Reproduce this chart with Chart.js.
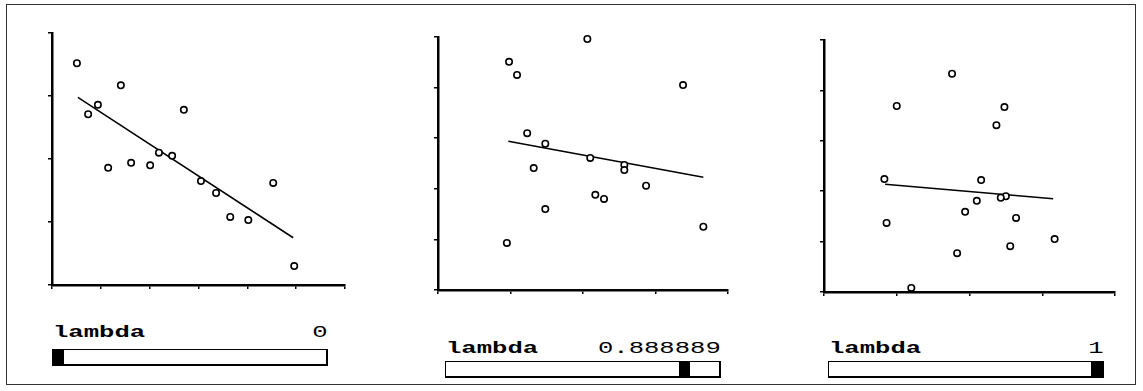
<!DOCTYPE html>
<html>
<head>
<meta charset="utf-8">
<script src="https://cdn.jsdelivr.net/npm/chart.js@4.4.1/dist/chart.umd.min.js"></script>
<style>
  body { margin: 0; background: #fff; width: 1143px; height: 391px; position: relative; overflow: hidden; }
  #frame { position: absolute; left: 6px; top: 4px; width: 1130px; height: 381px; border: 1px solid #333; box-sizing: border-box; }
  canvas.plot { position: absolute; }
  .txt { position: absolute; font-family: "Liberation Mono", monospace; font-size: 16px; line-height: 16px; color: #000; white-space: nowrap; }
  .lbl { transform: scaleX(1.6); transform-origin: left top; font-weight: bold; }
  .val { transform: scaleX(1.6); transform-origin: right top; text-align: right; }
  .track { position: absolute; border: 1px solid #000; border-bottom-width: 2px; border-right-width: 2px; box-sizing: border-box; background: #fff; }
  .thumb { position: absolute; top: 0; bottom: 0; width: 11px; background: #000; }
</style>
</head>
<body>
<div id="frame"></div>

<script>
// panel 1 (lambda = 0)
const p1X = [0.51, 0.74, 0.94, 1.15, 1.41, 1.62, 2.01, 2.19, 2.46, 2.70, 3.05, 3.36, 3.65, 4.02, 4.53, 4.96];
const p1Y = [3.52, 2.71, 2.86, 1.86, 3.17, 1.94, 1.90, 2.10, 2.05, 2.78, 1.65, 1.46, 1.08, 1.03, 1.62, 0.30];
const p1FitX = [0.53, 4.94];
const p1FitY = [2.98, 0.75];

// panel 2 (lambda = 0.888889)
const p2X = [0.98, 1.09, 1.23, 1.48, 1.32, 2.06, 2.10, 2.57, 2.57, 2.17, 2.29, 2.87, 3.38, 1.48, 0.95, 3.66];
const p2Y = [4.51, 4.25, 3.10, 2.89, 2.41, 4.96, 2.61, 2.47, 2.37, 1.88, 1.80, 2.06, 4.05, 1.60, 0.93, 1.25];
const p2FitX = [0.97, 3.66];
const p2FitY = [2.94, 2.23];

// panel 3 (lambda = 1)
const p3X = [1.76, 1.00, 2.48, 2.37, 0.83, 2.16, 2.50, 2.43, 2.10, 1.94, 2.64, 0.86, 3.17, 2.56, 1.83, 1.20];
const p3Y = [4.33, 3.69, 3.67, 3.31, 2.24, 2.22, 1.90, 1.87, 1.81, 1.59, 1.47, 1.37, 1.05, 0.91, 0.77, 0.08];
const p3FitX = [0.84, 3.15];
const p3FitY = [2.14, 1.85];

const lambdaLabel = 'lambda';
const lambdaText = ['0', '0.888889', '1'];
const lambdaVals = [0, 0.888889, 1];

// axis ranges
const xMaxes = [6, 4, 4];
const yMaxes = [4, 5, 5];

const panels = [
  { xs: p1X, ys: p1Y, fx: p1FitX, fy: p1FitY, area: { l: 52, t: 33, r: 345, b: 285 }, slider: { l: 52, t: 349, w: 276, h: 17 }, textTop: 325 },
  { xs: p2X, ys: p2Y, fx: p2FitX, fy: p2FitY, area: { l: 438, t: 37, r: 728, b: 290 }, slider: { l: 445, t: 361, w: 276, h: 17 }, textTop: 341 },
  { xs: p3X, ys: p3Y, fx: p3FitX, fy: p3FitY, area: { l: 824, t: 40, r: 1115, b: 292 }, slider: { l: 828, t: 361, w: 276, h: 17 }, textTop: 341 }
];

const TICK = 4;
const PAD = { l: 12, t: 8, r: 12, b: 20 };

const toPoints = (xs, ys) => xs.map((x, i) => ({ x: x, y: ys[i] }));

panels.forEach((p, i) => {
  const a = p.area;
  const cv = document.createElement('canvas');
  cv.className = 'plot';
  const w = (a.r - a.l) + PAD.l + PAD.r;
  const h = (a.b - a.t) + PAD.t + PAD.b;
  cv.style.left = (a.l - PAD.l) + 'px';
  cv.style.top = (a.t - PAD.t) + 'px';
  cv.style.width = w + 'px';
  cv.style.height = h + 'px';
  cv.width = w;
  cv.height = h;
  document.body.appendChild(cv);

  new Chart(cv.getContext('2d'), {
    type: 'scatter',
    data: {
      datasets: [
        {
          data: toPoints(p.fx, p.fy),
          showLine: true,
          borderColor: '#000',
          borderWidth: 1.5,
          pointRadius: 0,
          clip: false,
          order: 2
        },
        {
          data: toPoints(p.xs, p.ys),
          pointStyle: 'circle',
          pointRadius: 3.2,
          borderWidth: 1.6,
          borderColor: '#000',
          backgroundColor: '#fff',
          clip: false,
          order: 1
        }
      ]
    },
    options: {
      responsive: false,
      animation: false,
      maintainAspectRatio: false,
      layout: { padding: { left: PAD.l - TICK, top: PAD.t, right: PAD.r, bottom: PAD.b - TICK } },
      plugins: { legend: { display: false }, tooltip: { enabled: false } },
      scales: {
        x: {
          type: 'linear',
          min: 0,
          max: xMaxes[i],
          ticks: { stepSize: 1, display: false },
          grid: { drawOnChartArea: false, drawTicks: true, tickLength: TICK, color: '#000', lineWidth: 1.5 },
          border: { display: true, color: '#000', width: 2.5 }
        },
        y: {
          type: 'linear',
          min: 0,
          max: yMaxes[i],
          ticks: { stepSize: 1, display: false },
          grid: { drawOnChartArea: false, drawTicks: true, tickLength: TICK, color: '#000', lineWidth: 1.5 },
          border: { display: true, color: '#000', width: 2.5 }
        }
      }
    }
  });

  // lambda label + value
  const s = p.slider;
  const lbl = document.createElement('div');
  lbl.className = 'txt lbl';
  lbl.textContent = lambdaLabel;
  lbl.style.left = (s.l + 1) + 'px';
  lbl.style.top = p.textTop + 'px';
  document.body.appendChild(lbl);

  const val = document.createElement('div');
  val.className = 'txt val';
  val.textContent = lambdaText[i];
  val.style.right = (1143 - (s.l + s.w)) + 'px';
  val.style.top = p.textTop + 'px';
  document.body.appendChild(val);

  // slider track and thumb
  const track = document.createElement('div');
  track.className = 'track';
  track.style.left = s.l + 'px';
  track.style.top = s.t + 'px';
  track.style.width = s.w + 'px';
  track.style.height = s.h + 'px';
  const thumb = document.createElement('div');
  thumb.className = 'thumb';
  const inner = s.w - 3;
  thumb.style.left = Math.round(lambdaVals[i] * (inner - 11)) + 'px';
  track.appendChild(thumb);
  document.body.appendChild(track);
});
</script>
</body>
</html>
